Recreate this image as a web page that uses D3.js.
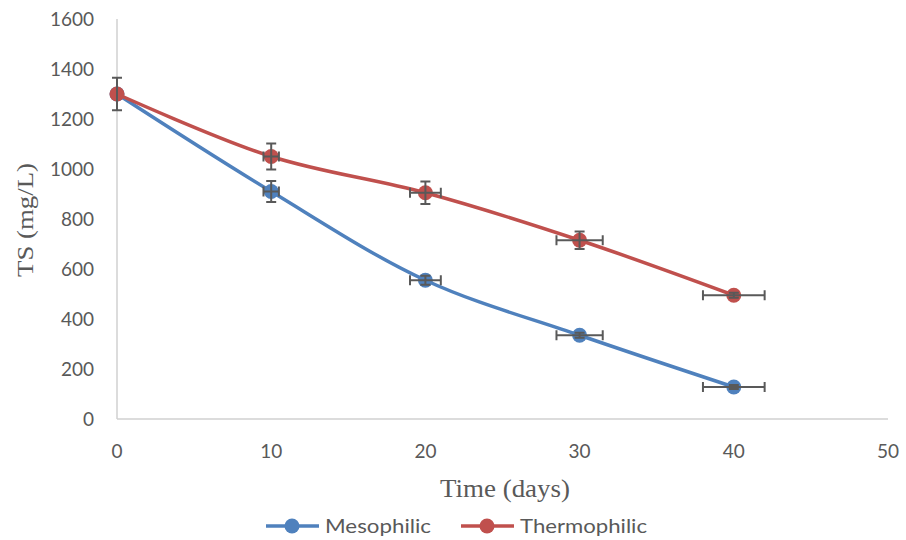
<!DOCTYPE html>
<html>
<head>
<meta charset="utf-8">
<script src="https://cdn.jsdelivr.net/npm/d3@7"></script>
<style>
  body { margin: 0; background: #fff; }
  svg { display: block; }
</style>
</head>
<body>
<script>
var days = [0, 10, 20, 30, 40];
var mesophilic = [1300, 910, 555, 335, 128];
var thermophilic = [1300, 1050, 905, 715, 495];
// error bars: y in mg/L, x in days
var mesoErrY = [0, 42, 18, 10, 8];
var mesoErrX = [0, 0.5, 1, 1.5, 2];
var thermoErrY = [65, 52, 45, 35, 10];
var thermoErrX = [0, 0.5, 1, 1.5, 2];
var xTicks = [0, 10, 20, 30, 40, 50];
var yTicks = [0, 200, 400, 600, 800, 1000, 1200, 1400, 1600];

var W = 906, H = 540;
var margin = { left: 117, top: 19, right: 18, bottom: 121 };

var svg = d3.select('body').append('svg')
  .attr('width', W)
  .attr('height', H);

var x = d3.scaleLinear().domain([0, 50]).range([margin.left, W - margin.right]);
var y = d3.scaleLinear().domain([0, 1600]).range([H - margin.bottom, margin.top]);

var axisColor = '#d0d0d0';
var textColor = '#595959';
var sans = 'Lato, "Open Sans", sans-serif';

// axes lines
svg.append('line')
  .attr('x1', x(0)).attr('x2', x(0))
  .attr('y1', y(1600)).attr('y2', y(0))
  .attr('stroke', axisColor).attr('stroke-width', 1.5);
svg.append('line')
  .attr('x1', x(0)).attr('x2', x(50))
  .attr('y1', y(0)).attr('y2', y(0))
  .attr('stroke', axisColor).attr('stroke-width', 1.5);

// tick labels
svg.selectAll('.ytick')
    .data(yTicks)
  .enter()
    .append('text')
    .attr('class', 'ytick')
    .attr('x', 94)
    .attr('y', function(d) { return y(d); })
    .attr('dy', '0.35em')
    .attr('text-anchor', 'end')
    .attr('font-family', sans)
    .attr('font-size', 19)
    .attr('fill', textColor)
    .text(function(d) { return d; });

svg.selectAll('.xtick')
    .data(xTicks)
  .enter()
    .append('text')
    .attr('class', 'xtick')
    .attr('x', function(d) { return x(d); })
    .attr('y', 451)
    .attr('dy', '0.35em')
    .attr('text-anchor', 'middle')
    .attr('font-family', sans)
    .attr('font-size', 19)
    .attr('fill', textColor)
    .text(function(d) { return d; });

// axis titles
svg.append('text')
  .attr('x', 505).attr('y', 497)
  .attr('text-anchor', 'middle')
  .attr('font-family', '"Liberation Serif", serif')
  .attr('font-size', 25)
  .attr('textLength', 130)
  .attr('lengthAdjust', 'spacingAndGlyphs')
  .attr('fill', textColor)
  .text('Time (days)');

svg.append('text')
  .attr('transform', 'translate(33,220) rotate(-90)')
  .attr('text-anchor', 'middle')
  .attr('font-family', '"Liberation Serif", serif')
  .attr('font-size', 24)
  .attr('textLength', 114)
  .attr('lengthAdjust', 'spacingAndGlyphs')
  .attr('fill', textColor)
  .text('TS (mg/L)');

var series = [
  { name: 'Mesophilic', values: mesophilic, errY: mesoErrY, errX: mesoErrX, color: '#4f81bd' },
  { name: 'Thermophilic', values: thermophilic, errY: thermoErrY, errX: thermoErrX, color: '#c0504d' }
];

var line = d3.line()
  .x(function(d) { return x(d[0]); })
  .y(function(d) { return y(d[1]); })
  .curve(d3.curveCatmullRom.alpha(0.5));

series.forEach(function(s) {
  var pts = days.map(function(d, i) { return [d, s.values[i]]; });
  var g = svg.append('g');

  g.append('path')
    .attr('d', line(pts))
    .attr('fill', 'none')
    .attr('stroke', s.color)
    .attr('stroke-width', 3.5)
    .attr('stroke-linecap', 'round');

  g.selectAll('circle')
      .data(pts)
    .enter()
      .append('circle')
      .attr('cx', function(d) { return x(d[0]); })
      .attr('cy', function(d) { return y(d[1]); })
      .attr('r', 7.5)
      .attr('fill', s.color);

  // error bars on top
  var eb = g.append('g')
    .attr('stroke', '#595959')
    .attr('stroke-width', 2)
    .attr('fill', 'none');
  pts.forEach(function(p, i) {
    var cx = x(p[0]), cy = y(p[1]);
    var ey = s.errY[i], ex = s.errX[i];
    if (ey > 0) {
      var y1 = y(p[1] + ey), y2 = y(p[1] - ey);
      eb.append('line').attr('x1', cx).attr('x2', cx).attr('y1', y1).attr('y2', y2);
      eb.append('line').attr('x1', cx - 5).attr('x2', cx + 5).attr('y1', y1).attr('y2', y1);
      eb.append('line').attr('x1', cx - 5).attr('x2', cx + 5).attr('y1', y2).attr('y2', y2);
    }
    if (ex > 0) {
      var x1 = x(p[0] - ex), x2 = x(p[0] + ex);
      eb.append('line').attr('x1', x1).attr('x2', x2).attr('y1', cy).attr('y2', cy);
      eb.append('line').attr('x1', x1).attr('x2', x1).attr('y1', cy - 5).attr('y2', cy + 5);
      eb.append('line').attr('x1', x2).attr('x2', x2).attr('y1', cy - 5).attr('y2', cy + 5);
    }
  });
});

// legend
var legendItems = [
  { name: 'Mesophilic', color: '#4f81bd', x: 266, len: 106 },
  { name: 'Thermophilic', color: '#c0504d', x: 461, len: 127 }
];
legendItems.forEach(function(l) {
  var g = svg.append('g').attr('transform', 'translate(' + l.x + ',526)');
  g.append('line')
    .attr('x1', 0).attr('x2', 53)
    .attr('stroke', l.color).attr('stroke-width', 3.5);
  g.append('circle').attr('cx', 26).attr('r', 7.5).attr('fill', l.color);
  g.append('text')
    .attr('x', 59).attr('dy', '0.35em')
    .attr('font-family', sans)
    .attr('font-size', 19)
    .attr('textLength', l.len)
    .attr('lengthAdjust', 'spacingAndGlyphs')
    .attr('fill', textColor)
    .text(l.name);
});
</script>
</body>
</html>
